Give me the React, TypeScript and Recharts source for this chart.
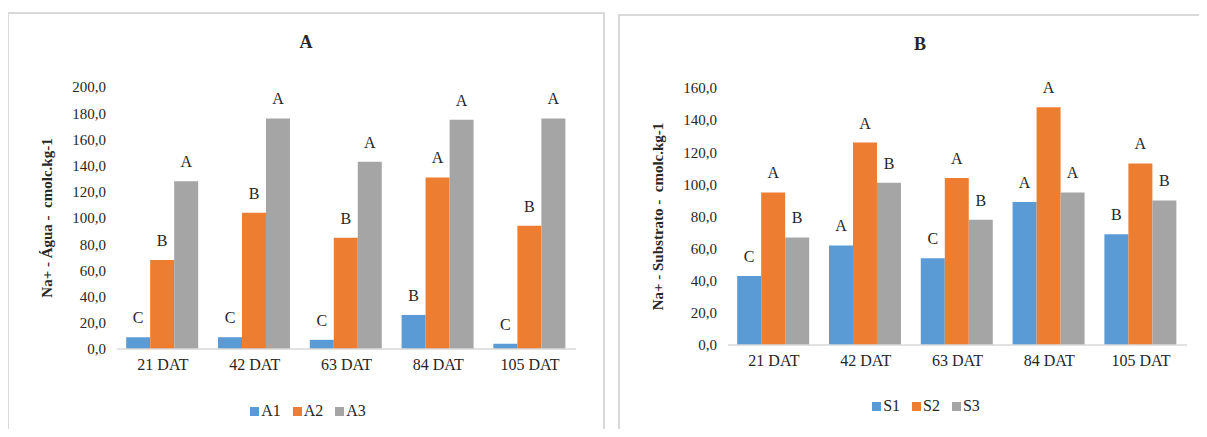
import React from 'react';
import { BarChart, Bar, XAxis, YAxis, LabelList } from 'recharts';

const categories = ['21 DAT', '42 DAT', '63 DAT', '84 DAT', '105 DAT'];

const a1 = [9, 9, 7, 26, 4];
const a2 = [68, 104, 85, 131, 94];
const a3 = [128, 176, 143, 175, 176];
const a1Letters = ['C', 'C', 'C', 'B', 'C'];
const a2Letters = ['B', 'B', 'B', 'A', 'B'];
const a3Letters = ['A', 'A', 'A', 'A', 'A'];

const s1 = [43, 62, 54, 89, 69];
const s2 = [95, 126, 104, 148, 113];
const s3 = [67, 101, 78, 95, 90];
const s1Letters = ['C', 'A', 'C', 'A', 'B'];
const s2Letters = ['A', 'A', 'A', 'A', 'A'];
const s3Letters = ['B', 'B', 'B', 'A', 'B'];

const ticksA = [0, 20, 40, 60, 80, 100, 120, 140, 160, 180, 200];
const ticksB = [0, 20, 40, 60, 80, 100, 120, 140, 160];

const seriesA = ['A1', 'A2', 'A3'];
const seriesB = ['S1', 'S2', 'S3'];
const colors = ['#5b9bd5', '#ed7d31', '#a5a5a5'];

const FONT = 'Liberation Serif, Tinos, DejaVu Serif, serif';
const TEXT = '#262626';

const dataA = categories.map((c, i) => ({
  cat: c,
  A1: a1[i], A2: a2[i], A3: a3[i],
  A1L: a1Letters[i], A2L: a2Letters[i], A3L: a3Letters[i],
}));
const dataB = categories.map((c, i) => ({
  cat: c,
  S1: s1[i], S2: s2[i], S3: s3[i],
  S1L: s1Letters[i], S2L: s2Letters[i], S3L: s3Letters[i],
}));

const fmt = (v: number) => v.toFixed(1).replace('.', ',');

const yTitle = (text: string, x: number) => (props: any) => {
  const vb = props.viewBox || {};
  const cy = vb.y + vb.height / 2;
  return (
    <text
      x={x}
      y={cy}
      transform={`rotate(-90, ${x}, ${cy})`}
      textAnchor="middle"
      dominantBaseline="central"
      style={{ fontFamily: FONT, fontWeight: 'bold', fontSize: 15, fill: TEXT }}
    >
      {text}
    </text>
  );
};

function Legend2({ names, left, top }: { names: string[]; left: number; top: number }) {
  return (
    <div
      style={{
        position: 'absolute',
        left: left - 150,
        width: 300,
        top,
        display: 'flex',
        justifyContent: 'center',
        alignItems: 'center',
        fontFamily: FONT,
        fontSize: 16,
        color: TEXT,
        gap: 12,
      }}
    >
      {names.map((n, i) => (
        <div key={n} style={{ display: 'flex', alignItems: 'center' }}>
          <span style={{ width: 9, height: 9, background: colors[i], display: 'inline-block', marginRight: 2 }} />
          <span>{n}</span>
        </div>
      ))}
    </div>
  );
}

function Panel({
  data, series, ticks, max, yLabel, yLabelX, width, margin, yWidth,
}: any) {
  return (
    <BarChart
      width={width}
      height={437}
      data={data}
      margin={margin}
      barCategoryGap="10%"
      barGap={0}
      style={{ fontFamily: FONT }}
    >
      <XAxis
        dataKey="cat"
        height={30}
        tickLine={false}
        axisLine={{ stroke: '#d9d9d9', strokeWidth: 1.5 }}
        tickMargin={4}
        tick={{ style: { fontFamily: FONT, fontSize: 16, fill: TEXT } }}
        interval={0}
      />
      <YAxis
        width={yWidth}
        domain={[0, max]}
        ticks={ticks}
        tickFormatter={fmt}
        axisLine={false}
        tickLine={false}
        tickMargin={5}
        interval={0}
        tick={{ style: { fontFamily: FONT, fontSize: 15, fill: TEXT } }}
        label={{ content: yTitle(yLabel, yLabelX) }}
      />
      {series.map((s: string, i: number) => (
        <Bar key={s} dataKey={s} fill={colors[i]} isAnimationActive={false}>
          <LabelList
            dataKey={`${s}L`}
            position="top"
            offset={14}
            style={{ fontFamily: FONT, fontSize: 16, fill: TEXT }}
          />
        </Bar>
      ))}
    </BarChart>
  );
}

export default function App() {
  return (
    <div style={{ position: 'relative', width: 1207, height: 437, margin: -8, background: '#fff', overflow: 'hidden', fontFamily: FONT }}>
      <div style={{ position: 'absolute', left: 7, top: 12, width: 594, height: 440, border: '2px solid #d9d9d9', borderBottom: 'none' }} />
      <div style={{ position: 'absolute', left: 618, top: 14, width: 600, height: 440, border: '2px solid #d9d9d9', borderBottom: 'none', borderRight: 'none' }} />

      <div style={{ position: 'absolute', left: 0, top: 0 }}>
        <Panel
          data={dataA}
          series={seriesA}
          ticks={ticksA}
          max={200}
          yLabel={'Na+ - Água - \u00a0cmolc.kg-1'}
          yLabelX={47}
          width={610}
          yWidth={117}
          margin={{ top: 87, right: 34, bottom: 58, left: 0 }}
        />
      </div>
      <div style={{ position: 'absolute', left: 610, top: 0 }}>
        <Panel
          data={dataB}
          series={seriesB}
          ticks={ticksB}
          max={160}
          yLabel={'Na+ - Substrato - \u00a0cmolc.kg-1'}
          yLabelX={48}
          width={597}
          yWidth={118}
          margin={{ top: 88, right: 20, bottom: 62, left: 0 }}
        />
      </div>

      <div style={{ position: 'absolute', left: 256, width: 100, top: 32, textAlign: 'center', fontFamily: FONT, fontWeight: 'bold', fontSize: 18, color: TEXT }}>A</div>
      <div style={{ position: 'absolute', left: 870, width: 100, top: 34, textAlign: 'center', fontFamily: FONT, fontWeight: 'bold', fontSize: 18, color: TEXT }}>B</div>

      <Legend2 names={seriesA} left={308} top={402} />
      <Legend2 names={seriesB} left={926} top={397} />
    </div>
  );
}
